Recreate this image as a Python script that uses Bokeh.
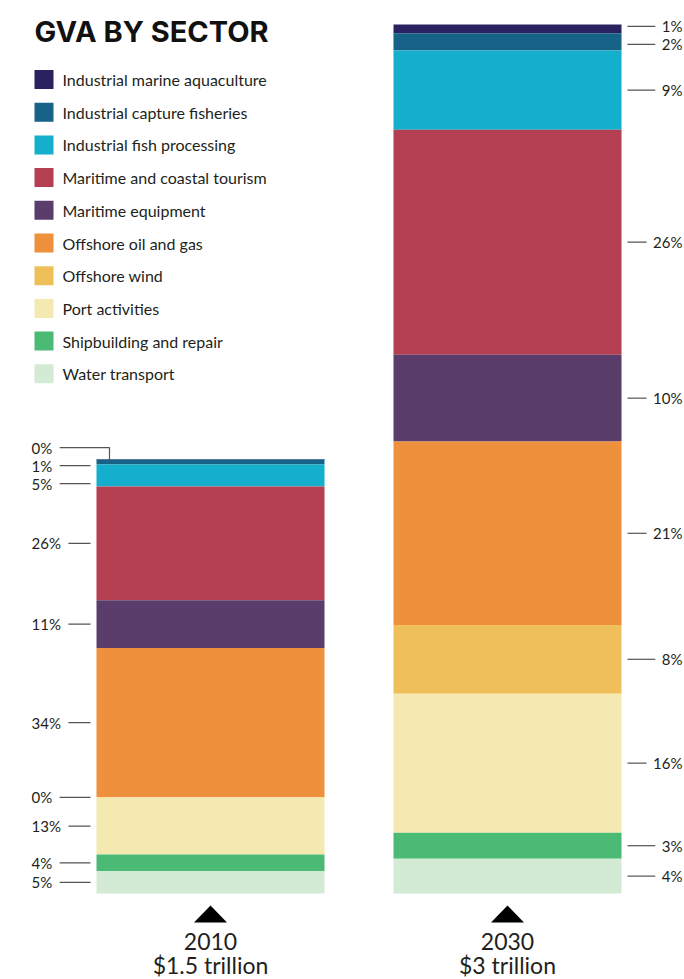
from bokeh.plotting import figure
from bokeh.models import ColumnDataSource, Range1d
from bokeh.core.properties import value
from bokeh.embed import file_html
from bokeh.resources import INLINE

# ---------------- data ----------------
sectors = [
    "Industrial marine aquaculture",
    "Industrial capture fisheries",
    "Industrial fish processing",
    "Maritime and coastal tourism",
    "Maritime equipment",
    "Offshore oil and gas",
    "Offshore wind",
    "Port activities",
    "Shipbuilding and repair",
    "Water transport",
]
colors = [
    "#2a2160", "#176287", "#14afcc", "#b33f50", "#5a3d6b",
    "#ee903c", "#efc05a", "#f3e9b1", "#4bba75", "#d3ead5",
]
years = ["2010", "2030"]
totals = [1.5, 3.0]  # trillion USD
total_labels = ["$1.5 trillion", "$3 trillion"]
# share of GVA, percent (legend order)
share_2010 = [0.1, 1.15, 5.1, 26.2, 11.0, 34.4, 0.1, 13.1, 3.9, 5.1]
share_2030 = [1.0, 2.0, 9.1, 25.9, 10.0, 21.1, 7.9, 16.0, 3.0, 4.0]

# ---------------- layout ----------------
W, H = 684, 979
PX = 289.67          # pixels per trillion
BASE = 86            # pixels from bottom of page to bar baseline
FONT = "Lato"
TXT = "#231f20"
LINE = "#555555"

def sy(ypix):
    return (H - ypix - BASE) / PX

p = figure(width=W, height=H, output_backend="svg", toolbar_location=None,
           x_range=Range1d(0, W), y_range=Range1d(-BASE / PX, (H - BASE) / PX),
           min_border=0)
p.axis.visible = False
p.grid.visible = False
p.outline_line_color = None
p.background_fill_color = "white"
p.border_fill_color = "white"

bar_x = [210, 507]
bar_w = 228
sides = ["left", "right"]

def spread(vals, gap):
    y = list(vals)
    order = sorted(range(len(y)), key=lambda i: y[i])
    for _ in range(500):
        moved = False
        for a, b in zip(order[:-1], order[1:]):
            d = y[b] - y[a]
            if d < gap - 1e-9:
                m = (gap - d) / 2
                y[a] -= m
                y[b] += m
                moved = True
        if not moved:
            break
    return y

def tw(s):
    return sum(12.5 if c == "%" else 8.7 for c in s)

for bi, shares in enumerate([share_2010, share_2030]):
    tot = totals[bi]
    ssum = sum(shares)
    vals = [tot * s / ssum for s in shares]
    # stack bottom-up: reversed legend order
    bottoms, tops = [0.0] * len(vals), [0.0] * len(vals)
    acc = 0.0
    for i in reversed(range(len(vals))):
        bottoms[i] = acc
        acc += vals[i]
        tops[i] = acc
    xc = bar_x[bi]
    src = ColumnDataSource(dict(left=[xc - bar_w / 2] * len(vals), right=[xc + bar_w / 2] * len(vals),
                                bottom=bottoms, top=tops, color=colors))
    p.quad(left="left", right="right", bottom="bottom", top="top", fill_color="color",
           line_color=None, source=src)

    labels = [f"{round(s)}%" for s in shares]
    centers = [(b + t) / 2 for b, t in zip(bottoms, tops)]
    lab_y = spread(centers, 18 / PX)
    xs, ys, tx, tyy = [], [], [], []
    if sides[bi] == "left":
        bl = xc - bar_w / 2
        text_x = bl - 65
        for lab, c, ly in zip(labels, centers, lab_y):
            x0 = text_x + tw(lab) + 7
            if abs(ly - c) * PX > 10:
                xs.append([x0, bl + 13, bl + 13])
                ys.append([ly, ly, c - 4 / PX])
            else:
                xs.append([x0, bl - 6])
                ys.append([ly, ly])
            tx.append(text_x)
            tyy.append(ly)
        p.text(x=tx, y=tyy, text=labels, text_align="left", text_baseline="middle",
               text_font=value(FONT), text_font_size="15px", text_color=TXT)
    else:
        br = xc + bar_w / 2
        text_x = br + 61
        for lab, c, ly in zip(labels, centers, lab_y):
            xs.append([br + 6, text_x - tw(lab) - 6])
            ys.append([ly, ly])
            tx.append(text_x)
            tyy.append(ly)
        p.text(x=tx, y=tyy, text=labels, text_align="right", text_baseline="middle",
               text_font=value(FONT), text_font_size="15px", text_color=TXT)
    p.multi_line(xs=xs, ys=ys, line_color=LINE, line_width=1.2)

    # marker triangle and captions
    p.patch(x=[xc - 16.5, xc + 16.5, xc], y=[sy(922), sy(922), sy(905)], fill_color="black",
            line_color=None)
    p.text(x=[xc], y=[sy(941)], text=[years[bi]], text_align="center", text_baseline="middle",
           text_font=value(FONT), text_font_size="23px", text_color=TXT)
    p.text(x=[xc], y=[sy(964)], text=[total_labels[bi]], text_align="center",
           text_baseline="middle", text_font=value(FONT), text_font_size="23px", text_color=TXT)

# title
p.text(x=[34], y=[sy(31)], text=["GVA BY SECTOR"], text_align="left", text_baseline="middle",
       text_font=value("Inter"), text_font_style="bold", text_font_size="29px", text_color="#111111")

# legend
leg_y = [sy(79 + 32.7 * i) for i in range(len(sectors))]
p.rect(x=[43.5] * len(sectors), y=leg_y, width=19, height=19 / PX, fill_color=colors,
       line_color=None)
p.text(x=[62] * len(sectors), y=leg_y, text=sectors, text_align="left", text_baseline="middle",
       text_font=value(FONT), text_font_size="16px", text_color=TXT)

open("out.html", "w").write(file_html(p, INLINE))
